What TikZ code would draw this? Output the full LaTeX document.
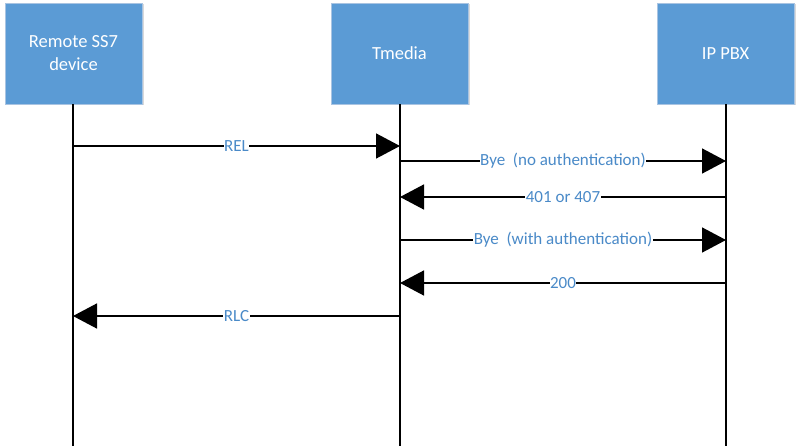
\documentclass[tikz,border=0pt]{standalone}
\usepackage{fontspec}
\setmainfont{Carlito}
\usetikzlibrary{arrows.meta,shadows}
\definecolor{boxblue}{HTML}{5B9BD5}
\definecolor{boxedge}{HTML}{A9C4E2}
\definecolor{lblblue}{HTML}{4A8AC8}
\tikzset{
  actor/.style={draw=boxedge, line width=0.8pt, fill=boxblue, minimum width=137pt, minimum height=101pt,
    inner sep=0pt, text=white, font=\fontsize{18.5}{23}\selectfont, align=center,
    drop shadow={shadow xshift=1.5pt, shadow yshift=-1.5pt, fill=black!25, opacity=0.6}},
  life/.style={line width=1.6pt, black},
  msg/.style={line width=1.5pt, black, -{Triangle[length=24pt, width=25pt]}},
  lbl/.style={fill=white, inner sep=0.5pt, text=lblblue, font=\fontsize{17}{20}\selectfont}
}
\begin{document}
\begin{tikzpicture}[x=1pt,y=-1pt]
\useasboundingbox (0,0) rectangle (800,446);
\node[actor] (a) at (73.5,53.5) {Remote SS7\\device};
\node[actor] (b) at (399.5,53.5) {Tmedia};
\node[actor] (c) at (725.5,53.5) {IP PBX};
\coordinate (aend) at (73,446);
\coordinate (bend) at (400,446);
\coordinate (cend) at (726,446);
\draw[life] (a.south -| aend) -- (aend);
\draw[life] (b.south -| bend) -- (bend);
\draw[life] (c.south -| cend) -- (cend);
\coordinate (a1) at (73,146); \coordinate (b1) at (400,146);
\coordinate (b2) at (400,161); \coordinate (c2) at (726,161);
\coordinate (c3) at (726,197); \coordinate (b3) at (400,197);
\coordinate (b4) at (400,240); \coordinate (c4) at (726,240);
\coordinate (c5) at (726,283); \coordinate (b5) at (400,283);
\coordinate (b6) at (400,316); \coordinate (a6) at (73,316);
\draw[msg] (a1) -- node[lbl] (l1) {REL} (b1);
\draw[msg] (b2) -- node[lbl] (l2) {Bye\ \ (no authentication)} (c2);
\draw[msg] (c3) -- node[lbl] (l3) {401 or 407} (b3);
\draw[msg] (b4) -- node[lbl] (l4) {Bye\ \ (with authentication)} (c4);
\draw[msg] (c5) -- node[lbl] (l5) {200} (b5);
\draw[msg] (b6) -- node[lbl] (l6) {RLC} (a6);
\end{tikzpicture}
\end{document}
